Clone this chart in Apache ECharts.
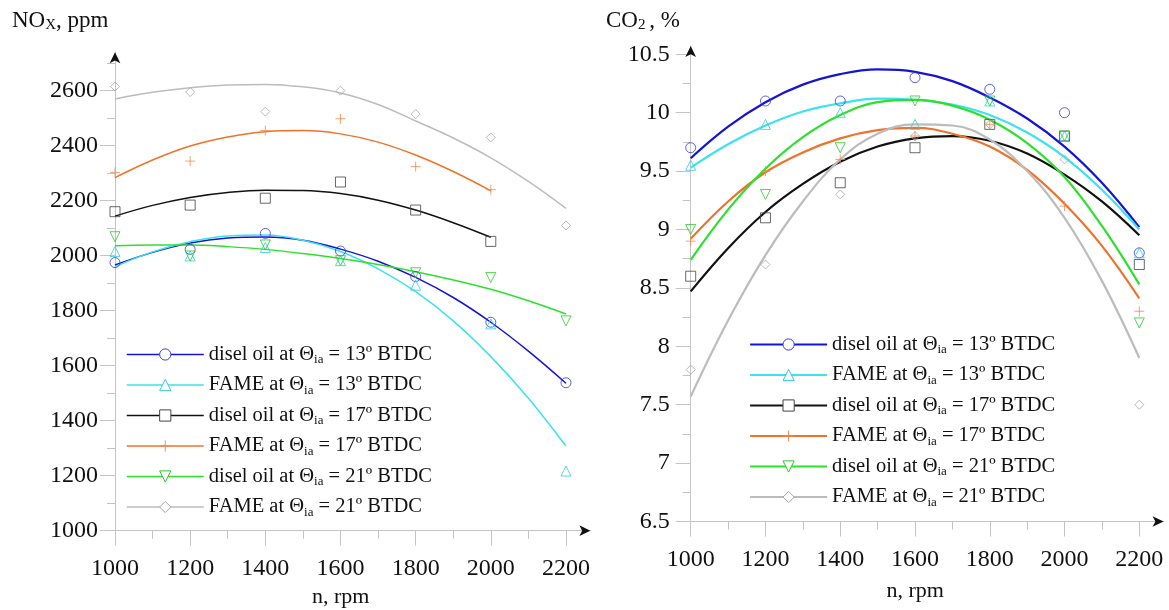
<!DOCTYPE html>
<html>
<head>
<meta charset="utf-8">
<script src="https://cdn.jsdelivr.net/npm/echarts@6/dist/echarts.min.js"></script>
<style>
    html, body { margin: 0; padding: 0; background: #fff; }
    #chart { width: 1169px; height: 610px; }
</style>
</head>
<body>
<div id="chart"></div>
<script>
// engine speed, rpm (measured points every 200, trend lines read every 100)
const rpm = [1000, 1200, 1400, 1600, 1800, 2000, 2200]
const fitRpm = [1000, 1100, 1200, 1300, 1400, 1500, 1600, 1700, 1800, 1900, 2000, 2100, 2200]
const xTicks = [1000, 1200, 1400, 1600, 1800, 2000, 2200]
const xMinorTicks = [1100, 1300, 1500, 1700, 1900, 2100]
const noxTicks = [1000, 1200, 1400, 1600, 1800, 2000, 2200, 2400, 2600]
const noxMinorTicks = [1100, 1300, 1500, 1700, 1900, 2100, 2300, 2500, 2700]
const co2Ticks = [6.5, 7, 7.5, 8, 8.5, 9, 9.5, 10, 10.5]
const co2MinorTicks = [6.75, 7.25, 7.75, 8.25, 8.75, 9.25, 9.75, 10.25]

const legendNames = [
    'disel oil at Θia = 13º BTDC',
    'FAME at Θia = 13º BTDC',
    'disel oil at Θia = 17º BTDC',
    'FAME at Θia = 17º BTDC',
    'disel oil at Θia = 21º BTDC',
    'FAME at Θia = 21º BTDC',
]

// NOx, ppm - measured points
const noxDiesel13 = [1975, 2023, 2081, 2017, 1924, 1758, 1538]
const noxFame13 = [2015, 1999, 2030, 1982, 1893, 1752, 1217]
const noxDiesel17 = [2160, 2184, 2209, 2268, 2166, 2052]
const noxFame17 = [2303, 2344, 2455, 2498, 2324, 2240]
const noxDiesel21 = [2069, 1999, 2039, 1982, 1938, 1921, 1763]
const noxFame21 = [2615, 2595, 2524, 2600, 2515, 2430, 2110]

// NOx trend lines
const noxDiesel13Fit = [1966, 2012, 2046, 2064, 2068, 2056, 2024, 1980, 1921, 1848, 1758, 1653, 1536]
const noxFame13Fit = [1960, 2014, 2051, 2072, 2075, 2056, 2015, 1952, 1869, 1763, 1633, 1482, 1308]
const noxDiesel17Fit = [2144, 2183, 2212, 2230, 2238, 2237, 2226, 2202, 2166, 2120, 2067]
const noxFame17Fit = [2284, 2348, 2399, 2432, 2451, 2455, 2443, 2413, 2366, 2306, 2236]
const noxDiesel21Fit = [2036, 2039, 2039, 2033, 2023, 2008, 1990, 1968, 1942, 1912, 1878, 1836, 1788]
const noxFame21Fit = [2570, 2594, 2611, 2621, 2623, 2614, 2592, 2550, 2490, 2428, 2356, 2270, 2172]

// CO2, % - measured points
const co2Diesel13 = [9.7, 10.1, 10.1, 10.3, 10.2, 10.0, 8.8]
const co2Fame13 = [9.55, 9.9, 10.0, 9.9, 10.1, 9.8, 8.8]
const co2Diesel17 = [8.6, 9.1, 9.4, 9.7, 9.9, 9.8, 8.7]
const co2Fame17 = [8.9, 9.5, 9.6, 9.8, 9.9, 9.2, 8.3]
const co2Diesel21 = [9.0, 9.3, 9.7, 10.1, 10.1, 9.8, 8.2]
const co2Fame21 = [7.8, 8.7, 9.3, 9.8, 9.9, 9.6, 7.5]

// CO2 trend lines
const co2Diesel13Fit = [9.61, 9.88, 10.09, 10.24, 10.33, 10.37, 10.35, 10.27, 10.13, 9.95, 9.71, 9.40, 9.02]
const co2Fame13Fit = [9.53, 9.73, 9.89, 10.01, 10.08, 10.12, 10.11, 10.07, 9.98, 9.83, 9.62, 9.34, 9.0]
const co2Diesel17Fit = [8.47, 8.84, 9.15, 9.39, 9.58, 9.71, 9.78, 9.80, 9.76, 9.65, 9.47, 9.24, 8.95]
const co2Fame17Fit = [8.92, 9.24, 9.49, 9.66, 9.78, 9.85, 9.87, 9.82, 9.71, 9.51, 9.22, 8.86, 8.41]
const co2Diesel21Fit = [8.74, 9.17, 9.52, 9.79, 9.98, 10.09, 10.11, 10.06, 9.94, 9.74, 9.45, 9.03, 8.53]
const co2Fame21Fit = [7.57, 8.22, 8.78, 9.24, 9.60, 9.82, 9.90, 9.89, 9.77, 9.50, 9.10, 8.56, 7.90]

const SERIF = '"Liberation Serif", "Times New Roman", serif'
const AXIS_GRAY = '#c4c4c4'
const PLUS = 'path://M5,0L5,10M0,5L10,5'

const seriesStyles = [
    { line: '#1414d6', marker: '#3a3ad2', symbol: 'circle', rotate: 0 },
    { line: '#3ce2f0', marker: '#30cde0', symbol: 'triangle', rotate: 0 },
    { line: '#111111', marker: '#444444', symbol: 'rect', rotate: 0 },
    { line: '#f0722a', marker: '#f08a50', symbol: PLUS, rotate: 0 },
    { line: '#2ee02e', marker: '#2cc82c', symbol: 'triangle', rotate: 180 },
    { line: '#bcbcbc', marker: '#a8a8a8', symbol: 'diamond', rotate: 0 },
]

const pairs = (xs, ys) => ys.map((v, i) => [xs[i], v])

const panelSeries = (axisIndex, points, fits, lineWidth) => {
    const lines = legendNames.map((name, i) => {
        const s = seriesStyles[i]
        return {
            name,
            type: 'line',
            xAxisIndex: axisIndex,
            yAxisIndex: axisIndex,
            data: pairs(fitRpm, fits[i]),
            smooth: 0.4,
            showSymbol: false,
            symbol: s.symbol,
            symbolRotate: s.rotate,
            itemStyle: { color: '#fff', borderColor: s.marker, borderWidth: 1 },
            lineStyle: { color: s.line, width: lineWidth },
            silent: true,
            z: 2,
        }
    })
    const marks = legendNames.map((name, i) => {
        const s = seriesStyles[i]
        return {
            name,
            type: 'scatter',
            xAxisIndex: axisIndex,
            yAxisIndex: axisIndex,
            data: pairs(rpm, points[i]),
            symbol: s.symbol,
            symbolRotate: s.rotate,
            symbolSize: s.symbol === 'diamond' ? 9 : 10,
            itemStyle: { color: 'rgba(255,255,255,0)', borderColor: s.marker, borderWidth: 1 },
            silent: true,
            z: 3,
        }
    })
    return [...lines, ...marks]
}

const labelFont = { color: '#111', fontFamily: SERIF, fontSize: 24 }

const mainAxis = (gridIndex, pos, min, max, ticks, margin) => ({
    type: 'value',
    gridIndex,
    position: pos,
    min,
    max,
    axisLine: { onZero: false, lineStyle: { color: AXIS_GRAY, width: 1 } },
    axisTick: { customValues: ticks, length: 15, lineStyle: { color: AXIS_GRAY } },
    axisLabel: { customValues: ticks, margin, formatter: v => String(v), ...labelFont },
    splitLine: { show: false },
})

// second axis on top of the main one: minor ticks plus the black arrow head
const minorAxis = (gridIndex, pos, min, max, ticks) => ({
    type: 'value',
    gridIndex,
    position: pos,
    min,
    max,
    axisLine: {
        onZero: false,
        symbol: ['none', 'arrow'],
        symbolSize: [8, 11],
        lineStyle: { color: '#111', width: 0 },
    },
    axisTick: { customValues: ticks, length: 8, lineStyle: { color: AXIS_GRAY } },
    axisLabel: { show: false },
    splitLine: { show: false },
})

const nameStyle = (padding) => ({ color: '#111', fontFamily: SERIF, fontSize: 22, padding })

const xLeft = mainAxis(0, 'bottom', 1000, 2265, xTicks, 26)
xLeft.name = 'n, rpm'
xLeft.nameLocation = 'middle'
xLeft.nameGap = 56
xLeft.nameTextStyle = nameStyle([0, 24, 0, 0])

const xRight = mainAxis(1, 'bottom', 1000, 2265, xTicks, 26)
xRight.name = 'n, rpm'
xRight.nameLocation = 'middle'
xRight.nameGap = 59
xRight.nameTextStyle = nameStyle([0, 24, 0, 0])

const legendRich = {
    n: { color: '#111', fontFamily: SERIF, fontSize: 20.5, lineHeight: 24 },
    s: { color: '#111', fontFamily: SERIF, fontSize: 13, lineHeight: 13, verticalAlign: 'bottom' },
}

const legendFormatter = (name) => {
    const [head, tail] = name.split('Θia')
    return `{n|${head}Θ}{s|ia}{n|${tail}}`
}

const makeLegend = (left, top, width) => ({
    orient: 'vertical',
    left,
    top,
    padding: 0,
    itemWidth: 77,
    itemHeight: 14,
    itemGap: 8.0,
    selectedMode: false,
    data: legendNames,
    formatter: legendFormatter,
    lineStyle: { width },
    itemStyle: { borderWidth: 1 },
    textStyle: { rich: legendRich },
})

const titleRich = {
    a: { fill: '#111', fontFamily: SERIF, fontSize: 23, lineHeight: 24 },
    b: { fill: '#111', fontFamily: SERIF, fontSize: 15, lineHeight: 14, verticalAlign: 'bottom' },
}

const chart = echarts.init(document.getElementById('chart'), null, { width: 1169, height: 610 })

chart.setOption({
    animation: false,
    backgroundColor: '#fff',
    grid: [
        { left: 115, right: 578.6, top: 52.2, bottom: 79.3, outerBoundsMode: 'none' },
        { left: 690.7, right: 5.4, top: 46.1, bottom: 88.5, outerBoundsMode: 'none' },
    ],
    xAxis: [
        xLeft,
        minorAxis(0, 'bottom', 1000, 2265, xMinorTicks),
        xRight,
        minorAxis(1, 'bottom', 1000, 2265, xMinorTicks),
    ],
    yAxis: [
        mainAxis(0, 'left', 1000, 2740, noxTicks, 17),
        minorAxis(0, 'left', 1000, 2740, noxMinorTicks),
        mainAxis(1, 'left', 6.5, 10.57, co2Ticks, 21),
        minorAxis(1, 'left', 6.5, 10.57, co2MinorTicks),
    ],
    legend: [makeLegend(126, 344, 1.5), makeLegend(749, 334, 2.2)],
    graphic: [
        { type: 'text', left: 12, top: 9, style: { text: '{a|NO}{b|X}{a|, ppm}', rich: titleRich } },
        { type: 'text', left: 606, top: 9, style: { text: '{a|CO}{b|2 }{a|, %}', rich: titleRich } },
    ],
    series: [
        ...panelSeries(
            0,
            [noxDiesel13, noxFame13, noxDiesel17, noxFame17, noxDiesel21, noxFame21],
            [noxDiesel13Fit, noxFame13Fit, noxDiesel17Fit, noxFame17Fit, noxDiesel21Fit, noxFame21Fit],
            1.5,
        ),
        ...panelSeries(
            2,
            [co2Diesel13, co2Fame13, co2Diesel17, co2Fame17, co2Diesel21, co2Fame21],
            [co2Diesel13Fit, co2Fame13Fit, co2Diesel17Fit, co2Fame17Fit, co2Diesel21Fit, co2Fame21Fit],
            2.2,
        ),
    ],
})
</script>
</body>
</html>
